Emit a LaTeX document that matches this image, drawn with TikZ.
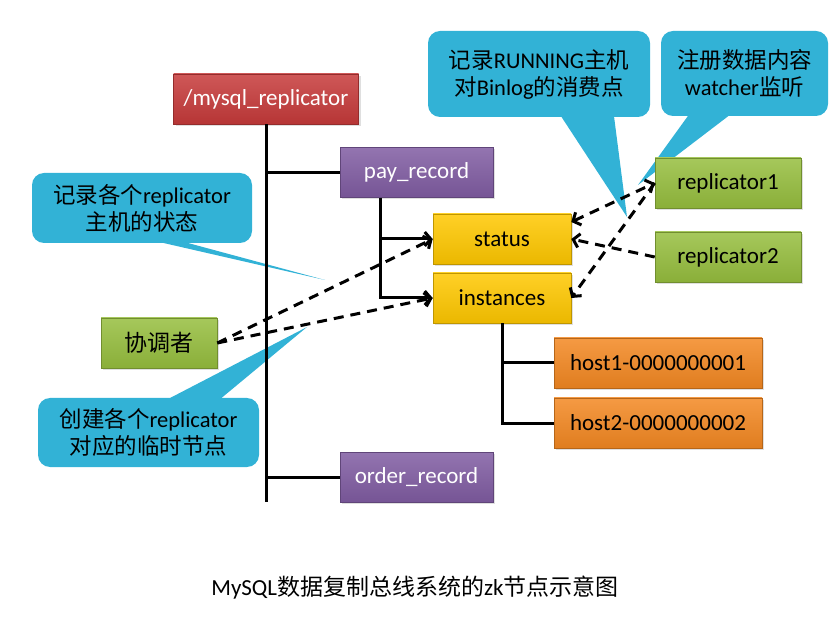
\documentclass[tikz,border=0pt]{standalone}
\usepackage{fontspec}
\setmainfont{Carlito}
\newfontfamily\cjk{Noto Sans CJK SC}
\usetikzlibrary{arrows.meta,shadows}

\definecolor{rootred}{RGB}{198,58,58}
\definecolor{zkpurple}{RGB}{128,92,162}
\definecolor{zkyellow}{RGB}{255,200,0}
\definecolor{zkorange}{RGB}{243,136,34}
\definecolor{zkgreen}{RGB}{150,190,62}
\definecolor{tipblue}{RGB}{50,178,214}

\tikzset{
  zknode/.style={draw=#1!75!black, line width=0.6pt, top color=#1!85!white, bottom color=#1!92!black,
    minimum height=50pt, inner sep=0pt, font=\fontsize{23}{26}\selectfont,
    drop shadow={opacity=0.25, shadow xshift=2pt, shadow yshift=-2pt}},
  tipbox/.style={fill=tipblue, rounded corners=12pt, inner sep=0pt, align=center,
    font=\fontsize{22.5}{27}\selectfont},
  link/.style={line width=3pt},
  watch/.style={line width=3pt, dash pattern=on 10pt off 7pt},
  >={Straight Barb[length=6pt,width=14pt]},
}

\begin{document}
\begin{tikzpicture}[x=1pt,y=-1pt]
    \useasboundingbox (0,0) rectangle (838,617);

    % Callouts with their pointers
    \node[tipbox, minimum width=220pt, minimum height=70pt] (c1) at (142,208)
        {{\cjk 记录各个}replicator\\{\cjk 主机的状态}};
    \node[tipbox, minimum width=221pt, minimum height=69pt] (c2) at (148.5,432.5)
        {{\cjk 创建各个}replicator\\{\cjk 对应的临时节点}};
    \node[tipbox, minimum width=222pt, minimum height=86pt] (c3) at (539,74)
        {{\cjk 记录}RUNNING{\cjk 主机}\\{\cjk 对}Binlog{\cjk 的消费点}};
    \node[tipbox, minimum width=167pt, minimum height=85pt] (c4) at (744.5,73.5)
        {{\cjk 注册数据内容}\\watcher{\cjk 监听}};

    \coordinate (t1) at (325,280);
    \coordinate (t2) at (307,327);
    \coordinate (t3) at (627,217);
    \coordinate (t4) at (638,185);
    \fill[tipblue] ([xshift=18pt,yshift=1pt]c1.south) -- (t1) -- ([xshift=43pt,yshift=1pt]c1.south) -- cycle;
    \fill[tipblue] ([xshift=20pt,yshift=-1pt]c2.north) -- (t2) -- ([xshift=72pt,yshift=-1pt]c2.north) -- cycle;
    \fill[tipblue] ([xshift=22pt,yshift=1pt]c3.south) -- (t3) -- ([xshift=75pt,yshift=1pt]c3.south) -- cycle;
    \fill[tipblue] ([xshift=-56pt,yshift=1pt]c4.south) -- (t4) -- ([xshift=-15pt,yshift=1pt]c4.south) -- cycle;

    % Tree nodes
    \node[zknode=rootred, minimum width=185pt, text=white] (root) at (266,99) {/mysql\_replicator};
    \node[zknode=zkpurple, minimum width=153pt, text=white] (pay) at (416.5,172.5) {pay\_record};
    \node[zknode=zkpurple, minimum width=153pt, text=white] (order) at (416.5,477) {order\_record};
    \node[zknode=zkyellow, minimum width=138pt] (status) at (502,239) {status};
    \node[zknode=zkyellow, minimum width=138pt] (instances) at (502,298) {instances};
    \node[zknode=zkorange, minimum width=208pt] (host1) at (658,363) {host1-0000000001};
    \node[zknode=zkorange, minimum width=208pt] (host2) at (658,423) {host2-0000000002};
    \node[zknode=zkgreen, minimum width=146pt] (rep1) at (728,183) {replicator1};
    \node[zknode=zkgreen, minimum width=146pt] (rep2) at (728,257) {replicator2};
    \node[zknode=zkgreen, minimum width=116pt] (coord) at (159,343) {\cjk 协调者};

    % Tree lines
    \coordinate (trunk) at (266,502);
    \draw[link] (root.south) -- (trunk);
    \draw[link] (root.south |- pay.west) -- (pay.west);
    \draw[link] (root.south |- order.west) -- (order.west);
    \draw[link,->] ([xshift=-36pt]pay.south) |- (instances.west);
    \draw[link,->] ([xshift=-36pt]pay.south |- status.west) -- (status.west);
    \draw[link] (instances.south) |- (host2.west);
    \draw[link] (instances.south |- host1.west) -- (host1.west);

    % Dashed links
    \draw[watch,->] (coord.east) -- (status.west);
    \draw[watch,->] (coord.east) -- (instances.west);
    \draw[watch,<->] ([yshift=17pt]status.east) -- (rep1.west);
    \draw[watch,->] (rep1.west) -- (instances.east);
    \draw[watch,->] (rep2.west) -- (status.east);

    \node[font=\fontsize{23}{26}\selectfont] (caption) at (415,588)
        {MySQL{\cjk 数据复制总线系统的}zk{\cjk 节点示意图}};
\end{tikzpicture}
\end{document}
